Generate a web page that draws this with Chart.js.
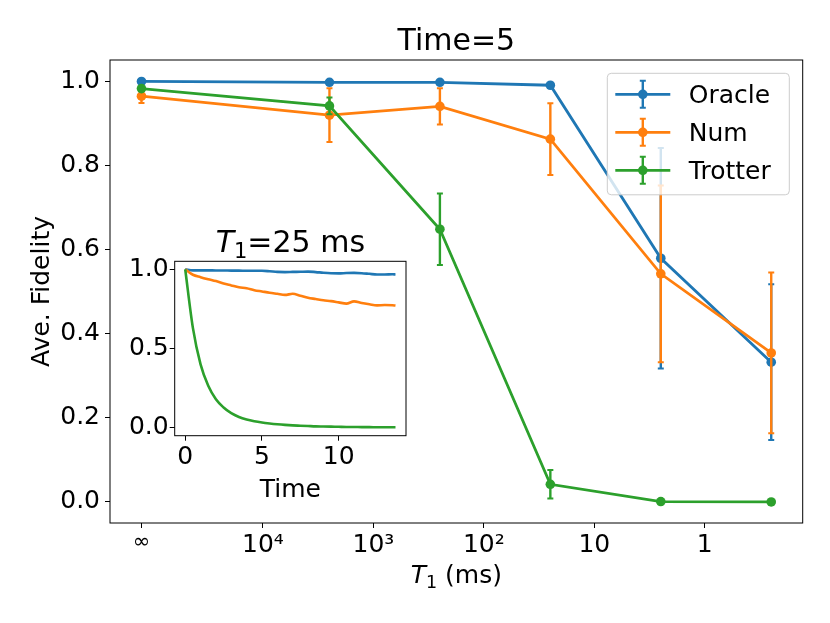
<!DOCTYPE html>
<html><head><meta charset="utf-8">
<script src="https://cdn.jsdelivr.net/npm/chart.js@4/dist/chart.umd.min.js"></script>
<style>
html,body{margin:0;padding:0;background:#fff;}
#wrap{position:relative;width:830px;height:623px;overflow:hidden;}
#main{position:absolute;left:0;top:0;}
#inset{position:absolute;left:100px;top:215px;}
</style></head><body>
<div id="wrap"><canvas id="main" width="830" height="623"></canvas><canvas id="inset" width="380" height="295"></canvas></div>
<script>
const FONT = '"DejaVu Sans", sans-serif';

// ---- main chart data ----
const T1_ms = [Infinity, 2500, 250, 25, 2.5, 0.25];
const INF_POS = 5.1;                 // axis position (log10 units) used for T1 = ∞
const tickT1 = [Infinity, 1e4, 1e3, 1e2, 10, 1];
const tickLabels = ['∞', '10⁴', '10³', '10²', '10', '1'];
const yTicks = [0, 0.2, 0.4, 0.6, 0.8, 1.0];
const seriesNames = ['Oracle', 'Num', 'Trotter'];
const seriesColors = ['#1f77b4', '#ff7f0e', '#2ca02c'];
const oracle     = [0.999, 0.997, 0.997, 0.990, 0.579, 0.332];
const oracleErr  = [0.002, 0.002, 0.002, 0.003, 0.262, 0.185];
const num        = [0.964, 0.919, 0.940, 0.862, 0.542, 0.354];
const numErr     = [0.016, 0.064, 0.043, 0.085, 0.210, 0.191];
const trotter    = [0.982, 0.941, 0.648, 0.042, 0.001, 0.000];
const trotterErr = [0.004, 0.020, 0.085, 0.034, 0.002, 0.001];

// ---- inset data (T1 = 25 ms) ----
const inTime = [0,0.5,1,1.5,2,2.5,3,3.5,4,4.5,5,5.5,6,6.5,7,7.5,8,8.5,9,9.5,10,10.5,11,11.5,12,12.5,13,13.5,13.7];
const inOracle = [1.0,0.993,0.993,0.993,0.992,0.992,0.991,0.991,0.990,0.990,0.990,0.987,0.983,0.982,0.983,0.984,0.985,0.982,0.978,0.975,0.974,0.976,0.977,0.975,0.971,0.967,0.967,0.968,0.967];
const inNum = [1.0,0.965,0.950,0.937,0.925,0.910,0.898,0.886,0.880,0.868,0.860,0.852,0.845,0.838,0.845,0.833,0.820,0.812,0.804,0.799,0.791,0.783,0.797,0.787,0.779,0.772,0.774,0.773,0.771];
const inTrotter = [1.0,0.63,0.40,0.265,0.18,0.128,0.092,0.068,0.052,0.041,0.033,0.027,0.022,0.018,0.015,0.013,0.011,0.009,0.008,0.007,0.006,0.005,0.005,0.004,0.004,0.003,0.003,0.003,0.003];
const inXTicks = [0, 5, 10];
const inYTicks = [0, 0.5, 1.0];

Chart.defaults.font.family = FONT;
Chart.defaults.color = '#000';

const toX = t => t === Infinity ? INF_POS : Math.log10(t);

function drawT1(ctx, cx, baseline, size, rest) {
  const fi = 'italic ' + size + 'px ' + FONT, fs = (size * 0.7) + 'px ' + FONT, fn = size + 'px ' + FONT;
  ctx.save();
  ctx.font = fi; const wT = ctx.measureText('T').width;
  ctx.font = fs; const w1 = ctx.measureText('1').width;
  ctx.font = fn; const wR = ctx.measureText(rest).width;
  let x = cx - (wT + w1 + wR) / 2;
  ctx.fillStyle = '#000'; ctx.textAlign = 'left'; ctx.textBaseline = 'alphabetic';
  ctx.font = fi; ctx.fillText('T', x, baseline); x += wT;
  ctx.font = fs; ctx.fillText('1', x, baseline + size * 0.2); x += w1;
  ctx.font = fn; ctx.fillText(rest, x, baseline);
  ctx.restore();
}

function roundRect(ctx, x, y, w, h, r) {
  ctx.beginPath();
  ctx.moveTo(x + r, y);
  ctx.arcTo(x + w, y, x + w, y + h, r);
  ctx.arcTo(x + w, y + h, x, y + h, r);
  ctx.arcTo(x, y + h, x, y, r);
  ctx.arcTo(x, y, x + w, y, r);
  ctx.closePath();
}

function drawErrGlyph(ctx, x, yTop, yBot, color, lw) {
  ctx.strokeStyle = color; ctx.lineWidth = lw;
  ctx.beginPath(); ctx.moveTo(x, yTop); ctx.lineTo(x, yBot); ctx.stroke();
  ctx.lineWidth = 2;
  ctx.beginPath();
  ctx.moveTo(x - 3, yTop); ctx.lineTo(x + 3, yTop);
  ctx.moveTo(x - 3, yBot); ctx.lineTo(x + 3, yBot);
  ctx.stroke();
}

const errorBarPlugin = {
  id: 'errbars',
  beforeDatasetDraw(chart, args) {
    const ds = chart.data.datasets[args.index];
    if (!ds.errors) return;
    const ys = chart.scales.y, ctx = chart.ctx;
    ctx.save();
    args.meta.data.forEach((pt, i) => {
      const v = ds.data[i].y, e = ds.errors[i];
      drawErrGlyph(ctx, pt.x, ys.getPixelForValue(v + e), ys.getPixelForValue(v - e), ds.borderColor, 2.4);
    });
    ctx.restore();
  }
};

const mainDecor = {
  id: 'mainDecor',
  afterDraw(chart) {
    const ctx = chart.ctx, ca = chart.chartArea;
    ctx.save();
    ctx.strokeStyle = '#000'; ctx.lineWidth = 1;
    ctx.strokeRect(ca.left, ca.top, ca.right - ca.left, ca.bottom - ca.top);
    // x axis title
    drawT1(ctx, (ca.left + ca.right) / 2, 583, 25, ' (ms)');
    // legend
    const lw = 182, lh = 121.5;
    const lx = ca.right - 13.4 - lw, ly = ca.top + 13.3;
    roundRect(ctx, lx, ly, lw, lh, 4);
    ctx.fillStyle = 'rgba(255,255,255,0.8)'; ctx.fill();
    ctx.strokeStyle = '#cccccc'; ctx.lineWidth = 1; ctx.stroke();
    chart.data.datasets.forEach((ds, i) => {
      const ry = ly + 21 + i * 38;
      const mx = lx + 35.5;
      ctx.strokeStyle = ds.borderColor; ctx.lineWidth = 2.8;
      ctx.beginPath(); ctx.moveTo(lx + 8, ry); ctx.lineTo(lx + 63, ry); ctx.stroke();
      drawErrGlyph(ctx, mx, ry - 13.5, ry + 13.5, ds.borderColor, 2.4);
      ctx.fillStyle = ds.borderColor;
      ctx.beginPath(); ctx.arc(mx, ry, 4.8, 0, Math.PI * 2); ctx.fill();
      ctx.fillStyle = '#000'; ctx.font = '25px ' + FONT;
      ctx.textAlign = 'left'; ctx.textBaseline = 'alphabetic';
      ctx.fillText(ds.label, lx + 81.5, ry + 9);
    });
    ctx.restore();
  }
};

const mainSeries = [oracle, num, trotter];
const mainErrs = [oracleErr, numErr, trotterErr];
const mainDatasets = seriesNames.map((name, k) => ({
  label: name,
  data: T1_ms.map((t, i) => ({ x: toX(t), y: mainSeries[k][i] })),
  errors: mainErrs[k],
  borderColor: seriesColors[k],
  backgroundColor: seriesColors[k],
  pointBackgroundColor: seriesColors[k],
  pointBorderWidth: 0,
  pointRadius: 4.8,
  borderWidth: 2.8,
  tension: 0,
  order: 3 - k
}));

new Chart(document.getElementById('main'), {
  type: 'line',
  data: { datasets: mainDatasets },
  options: {
    responsive: false, animation: false, devicePixelRatio: 1,
    layout: { padding: { left: 0, right: 27.3, top: 0, bottom: 0 } },
    plugins: {
      legend: { display: false }, tooltip: { enabled: false },
      title: { display: true, text: 'Time=5', fullSize: false, color: '#000',
        font: { size: 30, weight: 'normal', family: FONT }, padding: { top: 24, bottom: 0 } }
    },
    scales: {
      x: {
        type: 'linear', reverse: true, min: -0.887, max: 5.385,
        afterBuildTicks: s => { s.ticks = tickT1.map(t => ({ value: toX(t) })); },
        afterFit: s => { s.height = 100; },
        ticks: { autoSkip: false, maxRotation: 0, padding: 2,
          callback: (v, i) => tickLabels[i],
          font: c => ({ size: c.index === 0 ? 21 : 25, family: FONT }) },
        grid: { drawOnChartArea: false, drawTicks: true, tickLength: 5, color: '#000', lineWidth: 1 },
        border: { display: false },
        title: { display: false }
      },
      y: {
        type: 'linear', min: -0.05, max: 1.05,
        afterBuildTicks: s => { s.ticks = yTicks.map(v => ({ value: v })); },
        afterFit: s => { s.width = 110; },
        ticks: { autoSkip: false, padding: 5, font: { size: 25, family: FONT },
          callback: v => v.toFixed(1) },
        grid: { drawOnChartArea: false, drawTicks: true, tickLength: 5, color: '#000', lineWidth: 1 },
        border: { display: false },
        title: { display: true, text: 'Ave. Fidelity', font: { size: 25, family: FONT }, padding: { top: 27, bottom: 0 } }
      }
    }
  },
  plugins: [errorBarPlugin, mainDecor]
});

// ---- inset ----
const insetDecor = {
  id: 'insetDecor',
  beforeDatasetsDraw(chart) {
    const ctx = chart.ctx, ca = chart.chartArea;
    ctx.save(); ctx.fillStyle = '#fff';
    ctx.fillRect(ca.left, ca.top, ca.right - ca.left, ca.bottom - ca.top);
    ctx.restore();
  },
  afterDraw(chart) {
    const ctx = chart.ctx, ca = chart.chartArea;
    ctx.save(); ctx.strokeStyle = '#000'; ctx.lineWidth = 1;
    ctx.strokeRect(ca.left, ca.top, ca.right - ca.left, ca.bottom - ca.top);
    ctx.restore();
    drawT1(ctx, (ca.left + ca.right) / 2, 36.7, 30, '=25 ms');
  }
};

const inSeries = [inOracle, inNum, inTrotter];
new Chart(document.getElementById('inset'), {
  type: 'line',
  data: {
    datasets: seriesNames.map((name, k) => ({
      label: name,
      data: inTime.map((t, i) => ({ x: t, y: inSeries[k][i] })),
      borderColor: seriesColors[k], borderWidth: 2.6, pointRadius: 0,
      cubicInterpolationMode: 'monotone',
      order: 3 - k
    }))
  },
  options: {
    responsive: false, animation: false, devicePixelRatio: 1,
    layout: { padding: { left: 0, right: 74, top: 46.3, bottom: 0 } },
    plugins: { legend: { display: false }, tooltip: { enabled: false }, title: { display: false } },
    scales: {
      x: {
        type: 'linear', min: -0.685, max: 14.385,
        afterBuildTicks: s => { s.ticks = inXTicks.map(v => ({ value: v })); },
        afterFit: s => { s.height = 74.3; },
        ticks: { autoSkip: false, maxRotation: 0, padding: 2, font: { size: 25, family: FONT },
          callback: v => String(v) },
        grid: { drawOnChartArea: false, drawTicks: true, tickLength: 5, color: '#000', lineWidth: 1 },
        border: { display: false },
        title: { display: true, text: 'Time', font: { size: 25, family: FONT }, padding: { top: 0, bottom: 5 } }
      },
      y: {
        type: 'linear', min: -0.05, max: 1.05,
        afterBuildTicks: s => { s.ticks = inYTicks.map(v => ({ value: v })); },
        afterFit: s => { s.width = 74.7; },
        ticks: { autoSkip: false, padding: 1, font: { size: 25, family: FONT },
          callback: v => v.toFixed(1) },
        grid: { drawOnChartArea: false, drawTicks: true, tickLength: 5, color: '#000', lineWidth: 1 },
        border: { display: false }
      }
    }
  },
  plugins: [insetDecor]
});
</script>
</body></html>
